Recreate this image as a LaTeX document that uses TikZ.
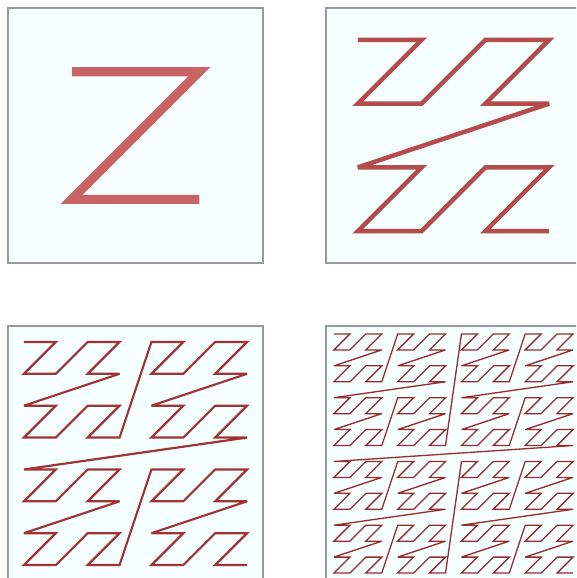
\documentclass[tikz,border=0pt]{standalone}
\definecolor{boxfill}{HTML}{F5FFFF}
\definecolor{boxline}{HTML}{999999}
\definecolor{zA}{RGB}{200,100,100}
\definecolor{zB}{RGB}{180,76,76}
\definecolor{zC}{RGB}{160,52,52}
\definecolor{zD}{RGB}{150,44,44}
\tikzset{
  panelbox/.style={draw=boxline, fill=boxfill, line width=1.5pt},
  zcurve/.style={line join=miter, miter limit=4, line cap=butt}
}
\newcommand\zpanel[5]{%
  \draw[panelbox] (#1,#2) rectangle ++(255,255);
  \pgfmathsetmacro\zcs{255/#3}
  \pgfmathtruncatemacro\zlast{#3*#3-1}
  \gdef\zpts{}
  \foreach \i in {0,...,\zlast}{
    \pgfmathtruncatemacro\zx{mod(\i,2)+2*mod(floor(\i/4),2)+4*mod(floor(\i/16),2)+8*mod(floor(\i/64),2)}
    \pgfmathtruncatemacro\zy{mod(floor(\i/2),2)+2*mod(floor(\i/8),2)+4*mod(floor(\i/32),2)+8*mod(floor(\i/128),2)}
    \pgfmathsetmacro\zpx{#1+(\zx+0.5)*\zcs}
    \pgfmathsetmacro\zpy{#2+(\zy+0.5)*\zcs}
    \xdef\zpts{\zpts (\zpx,\zpy)}
  }
  \draw[zcurve, draw=#5, line width=#4] plot coordinates {\zpts};
}
\begin{document}
\begin{tikzpicture}[x=1pt,y=-1pt]
\useasboundingbox (0,0) rectangle (576,578);
\clip (0,0) rectangle (576,578);
\zpanel{8}{8}{2}{9pt}{zA}
\zpanel{326}{8}{4}{4.5pt}{zB}
\zpanel{8}{326}{8}{2.2pt}{zC}
\zpanel{326}{326}{16}{1.3pt}{zD}
\end{tikzpicture}
\end{document}
